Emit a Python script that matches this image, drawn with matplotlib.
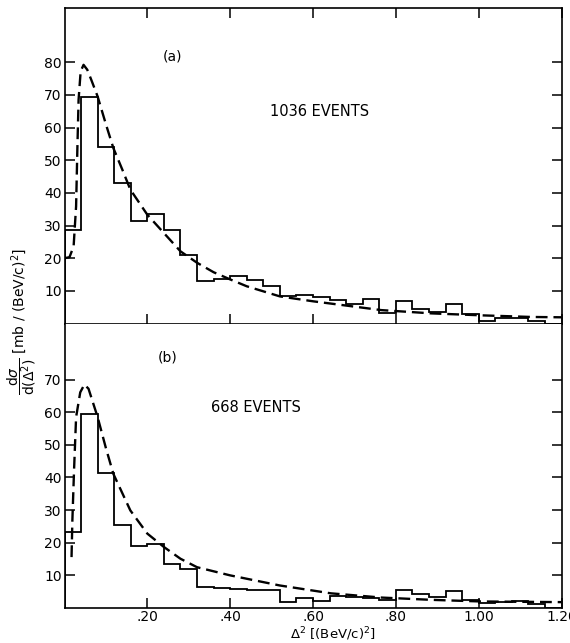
import matplotlib
matplotlib.use("Agg")
import matplotlib.pyplot as plt
import numpy as np

# bin edges in Delta^2 [(BeV/c)^2]
bin_edges = [0.00, 0.04, 0.08, 0.12, 0.16, 0.20, 0.24, 0.28, 0.32, 0.36, 0.40,
             0.44, 0.48, 0.52, 0.56, 0.60, 0.64, 0.68, 0.72, 0.76, 0.80,
             0.84, 0.88, 0.92, 0.96, 1.00, 1.04, 1.08, 1.12, 1.16, 1.20]

# (a) 1036 events
hist_a = [28.5, 69.5, 54.0, 43.0, 31.5, 33.5, 28.5, 21.0, 13.0, 13.5,
          14.5, 13.2, 11.4, 8.4, 8.8, 8.1, 7.2, 6.1, 7.5, 3.1,
          6.8, 4.5, 3.6, 6.1, 3.0, 0.8, 1.7, 1.7, 0.7, 0.0]
fit_a_x = [0.0, 0.012, 0.022, 0.028, 0.031, 0.034, 0.039, 0.046, 0.055, 0.065,
           0.08, 0.10, 0.118, 0.14, 0.159, 0.20, 0.24, 0.28, 0.32, 0.36,
           0.40, 0.44, 0.52, 0.60, 0.643, 0.765, 0.886, 1.006, 1.127, 1.20]
fit_a_y = [20.0, 20.3, 23.6, 35.9, 53.2, 68.5, 77.2, 79.2, 77.7, 74.5,
           69.5, 61.0, 53.7, 47.0, 41.0, 33.3, 27.7, 22.1, 18.6, 15.7,
           13.5, 11.4, 8.3, 6.8, 6.1, 4.1, 3.1, 2.5, 2.0, 1.9]

# (b) 668 events
hist_b = [23.3, 59.5, 41.3, 25.3, 19.0, 19.7, 13.6, 12.1, 6.4, 6.2,
          5.9, 5.6, 5.6, 1.9, 3.2, 2.2, 3.8, 3.4, 3.1, 2.4,
          5.6, 4.3, 3.4, 5.3, 2.6, 1.5, 1.7, 2.2, 1.3, 0.0]
fit_b_x = [0.017, 0.019, 0.023, 0.028, 0.038, 0.048, 0.058, 0.08, 0.10, 0.118,
           0.159, 0.20, 0.24, 0.28, 0.32, 0.40, 0.52, 0.643, 0.765, 0.886,
           1.006, 1.20]
fit_b_y = [15.6, 26.8, 42.1, 58.5, 66.1, 68.5, 67.2, 58.5, 49.0, 41.1,
           29.9, 22.8, 18.7, 15.1, 12.5, 10.0, 6.9, 4.5, 3.2, 2.5,
           2.0, 1.8]

xticks = [0.2, 0.4, 0.6, 0.8, 1.0, 1.2]
xtick_labels = [".20", ".40", ".60", ".80", "1.00", "1.20"]
yticks_a = [10, 20, 30, 40, 50, 60, 70, 80]
yticks_b = [10, 20, 30, 40, 50, 60, 70]

plt.rcParams["font.family"] = "DejaVu Sans"
fig = plt.figure(figsize=(5.70, 6.43), dpi=100)

left, width = 64.5 / 570, 497 / 570
y_mid = 1 - 323.5 / 643
ax_a = fig.add_axes([left, y_mid, width, (1 - 8 / 643) - y_mid])
ax_b = fig.add_axes([left, 1 - 608 / 643, width, y_mid - (1 - 608 / 643)])

for ax, hist, fx, fy, yt, ymax in [(ax_a, hist_a, fit_a_x, fit_a_y, yticks_a, 96.6),
                                   (ax_b, hist_b, fit_b_x, fit_b_y, yticks_b, 87.2)]:
    ax.stairs(hist, bin_edges, color="black", lw=1.3)
    ax.plot(fx, fy, color="black", lw=1.7, ls=(0, (5, 2.5)))
    ax.set_xlim(0, 1.2)
    ax.set_ylim(0, ymax)
    ax.set_yticks(yt)
    ax.set_xticks(xticks)
    ax.tick_params(direction="in", length=7, width=1.1, labelsize=10,
                   right=True, top=(ax is ax_a))
    ax.tick_params(axis="y", pad=2)
    ax.tick_params(axis="x", pad=1.5)
    for s in ax.spines.values():
        s.set_linewidth(1.2)

ax_a.set_xticklabels([])
ax_b.set_xticklabels(xtick_labels)
ax_b.spines["top"].set_visible(False)

ax_a.text(0.26, 81.6, "(a)", fontsize=10, ha="center", va="center")
ax_a.text(0.615, 64.8, "1036 EVENTS", fontsize=10.5, ha="center", va="center")
ax_b.text(0.248, 76.7, "(b)", fontsize=10, ha="center", va="center")
ax_b.text(0.462, 61.4, "668 EVENTS", fontsize=10.5, ha="center", va="center")

fig.text(0.038, 0.5,
         r"$\dfrac{\mathrm{d}\sigma}{\mathrm{d}(\Delta^2)}$ [mb / (BeV/c)$^2$]",
         rotation=90, ha="center", va="center", fontsize=10)
fig.text(333 / 570, 1 - 634 / 643, r"$\Delta^2$ [(BeV/c)$^2$]",
         ha="center", va="center", fontsize=9.5)

fig.savefig("out.png", dpi=100)
